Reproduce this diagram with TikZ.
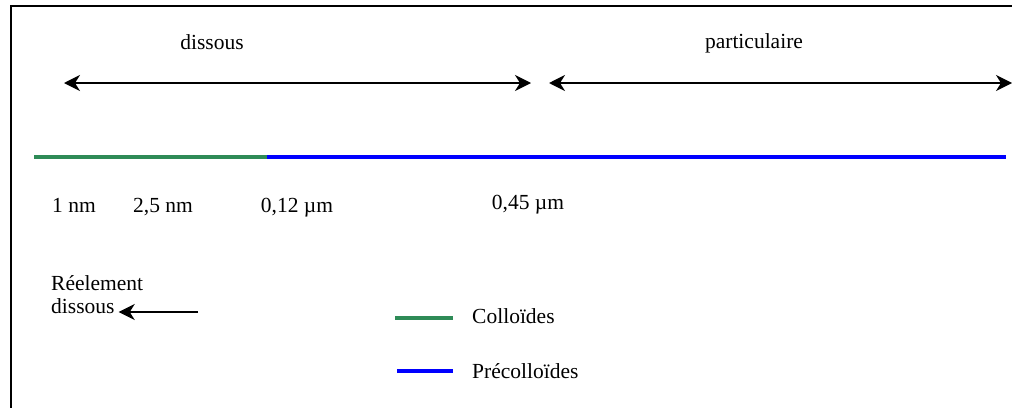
\documentclass[tikz,border=0pt]{standalone}
\usepackage{fontspec}
\setmainfont{Liberation Serif}
\usetikzlibrary{arrows.meta}
\definecolor{colgreen}{RGB}{46,139,87}
\begin{document}
\begin{tikzpicture}[x=1pt,y=-1pt,
  lbl/.style={font=\fontsize{21.5}{25}\selectfont, inner sep=0pt, anchor=base},
  darr/.style={line width=1.6pt,{Stealth[length=16pt,width=16pt,inset=5pt]}-{Stealth[length=16pt,width=16pt,inset=5pt]}},
  sarr/.style={line width=1.6pt,-{Stealth[length=16pt,width=16pt,inset=5pt]}},
  gline/.style={line width=4pt, colgreen},
  bline/.style={line width=4pt, blue}]
\useasboundingbox (0,0) rectangle (1012,407);
\begin{scope}
\clip (0,0) rectangle (1012,407);
\draw[line width=2pt] (10.5,420) -- (10.5,5.5) -- (1030,5.5);
\end{scope}
% top labels
\node[lbl] (dis) at (212,49) {dissous};
\node[lbl] (par) at (754,48) {particulaire};
% double arrows
\coordinate (a1) at (64,83);
\coordinate (a2) at (531,83);
\coordinate (b1) at (549,83);
\coordinate (b2) at (1012,83);
\draw[darr] (a1) -- (a2);
\draw[darr] (b1) -- (b2);
% scale line
\coordinate (s0) at (34,157);
\coordinate (s1) at (267,157);
\coordinate (s2) at (1006,157);
\draw[gline] (s0) -- (s1);
\draw[bline] (s1) -- (s2);
% ticks labels
\node[lbl] (t1) at (74,212) {1 nm};
\node[lbl] (t2) at (163,212) {2,5 nm};
\node[lbl] (t3) at (297,212) {0,12 µm};
\node[lbl] (t4) at (528,209.5) {0,45 µm};
% reelement dissous
\node[lbl, anchor=base west] (r1) at (51,290) {Réelement};
\node[lbl, anchor=base west] (r2) at (51,313) {dissous};
\coordinate (rs) at (198,312);
\draw[sarr] (rs) -- ([xshift=4pt]r2.east |- rs);
% legend
\coordinate (g1) at (395,318);
\coordinate (g2) at (453,318);
\draw[gline] (g1) -- (g2);
\node[lbl, anchor=base west] (col) at (472,323) {Colloïdes};
\coordinate (p1) at (397,371);
\coordinate (p2) at (453,371);
\draw[bline] (p1) -- (p2);
\node[lbl, anchor=base west] (pre) at (472,378.5) {Précolloïdes};
\end{tikzpicture}
\end{document}
